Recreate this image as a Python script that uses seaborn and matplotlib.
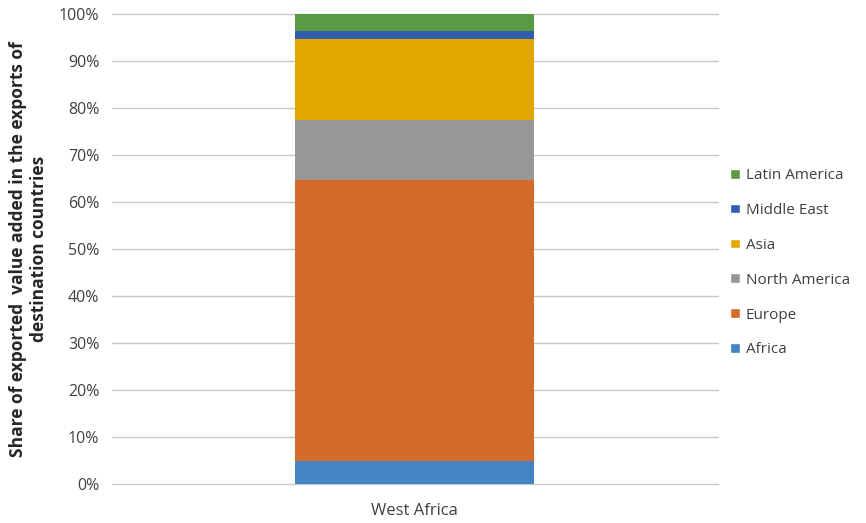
import numpy as np
import pandas as pd
import matplotlib
matplotlib.use("Agg")
import matplotlib.pyplot as plt
from matplotlib.patches import Patch
import seaborn as sns

# shares (%), bottom to top
regions = ["Africa", "Europe", "North America", "Asia", "Middle East", "Latin America"]
shares = [4.9, 59.7, 12.8, 17.2, 1.7, 3.7]
colors = ["#4384c4", "#d46a2c", "#979797", "#e1a900", "#2f5eae", "#5b9a45"]
category = ["West Africa"]

sns.set_theme(style="white")
plt.rcParams["font.family"] = ["Open Sans", "DejaVu Sans"]

fig = plt.figure(figsize=(8.66, 5.23), dpi=100)
ax = fig.add_axes([0.129, 0.075, 0.700, 0.899])

# stacked bar: draw the cumulative heights from top to bottom
cum = np.cumsum(shares)
handles = []
for i in range(len(regions) - 1, -1, -1):
    df = pd.DataFrame({"group": category, "value": [cum[i]]})
    sns.barplot(data=df, x="group", y="value", color=colors[i], width=0.394,
                saturation=1, linewidth=0, ax=ax, zorder=2)
    handles.append(Patch(facecolor=colors[i], label=regions[i]))

ax.set_ylim(0, 100)
ax.set_xlim(-0.5, 0.5)
ax.set_yticks(np.arange(0, 101, 10))
ax.set_yticklabels([f"{t}%" for t in range(0, 101, 10)], fontsize=11.5, color="#404040")
ax.tick_params(axis="x", labelsize=12, colors="#404040", length=0, pad=14)
ax.tick_params(axis="y", length=0, pad=9)
ax.yaxis.grid(True, color="#c8c8c8", linewidth=1, zorder=0)
for gl in ax.get_ygridlines():
    gl.set_clip_on(False)
ax.set_axisbelow(True)
for s in ax.spines.values():
    s.set_visible(False)
ax.set_xlabel("")
ax.set_ylabel("Share of exported  value added in the exports of\ndestination countries",
              fontsize=12.5, fontweight="bold", color="#262626", labelpad=8)

ax.legend(handles=handles, loc="center left", bbox_to_anchor=(0.998, 0.47),
          frameon=False, fontsize=11, labelspacing=1.3, handlelength=0.6,
          handleheight=0.6, handletextpad=0.4, labelcolor="#404040")

fig.savefig("out.png", dpi=100)
